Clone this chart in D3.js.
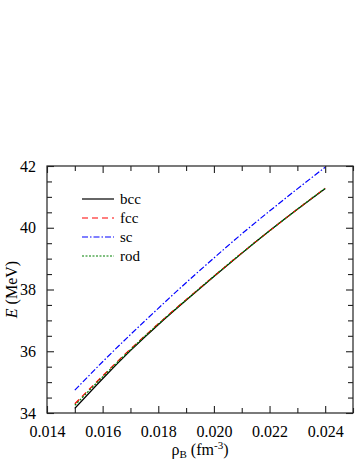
<!DOCTYPE html>
<html>
<head>
<meta charset="utf-8">
<script src="https://cdn.jsdelivr.net/npm/d3@7"></script>
<style>
  body { margin: 0; background: #fff; }
  svg { font-family: "Liberation Serif", "Times New Roman", serif; }
</style>
</head>
<body>
<svg id="chart" width="357" height="462"></svg>
<script>
// densities (fm^-3)
const rho = [0.015, 0.016, 0.017, 0.018, 0.019, 0.020, 0.021, 0.022, 0.023, 0.024];
// energies (MeV)
const bcc = [34.15, 35.11, 36.02, 36.86, 37.65, 38.42, 39.17, 39.90, 40.60, 41.27];
const fcc = [34.30, 35.20, 36.07, 36.89, 37.67, 38.43, 39.18, 39.90, 40.60, 41.28];
const sc  = [34.74, 35.66, 36.54, 37.39, 38.22, 39.02, 39.80, 40.54, 41.26, 41.96];
const rod = [34.25, 35.17, 36.05, 36.88, 37.66, 38.43, 39.18, 39.90, 40.60, 41.28];

const xTicks = [0.014, 0.016, 0.018, 0.020, 0.022, 0.024];
const yTicks = [34, 36, 38, 40, 42];

const series = [
  {name: 'bcc', values: bcc, color: '#000000', dash: null},
  {name: 'fcc', values: fcc, color: '#ff0000', dash: '6,4'},
  {name: 'sc',  values: sc,  color: '#0000ff', dash: '6,2,1.5,2'},
  {name: 'rod', values: rod, color: '#008000', dash: '2,1.5'}
];

const svg = d3.select('#chart');
const margin = {left: 47, top: 166, right: 4, bottom: 49};
const width = +svg.attr('width');
const height = +svg.attr('height');
const innerW = width - margin.left - margin.right;
const innerH = height - margin.top - margin.bottom;

const x = d3.scaleLinear().domain([0.014, 0.025]).range([margin.left, margin.left + innerW]);
const y = d3.scaleLinear().domain([34, 42]).range([margin.top + innerH, margin.top]);

const g = svg.append('g');

// curves
const line = d3.line().curve(d3.curveNatural).x((d, i) => x(rho[i])).y(d => y(d));
series.forEach(s => {
  g.append('path')
    .datum(s.values)
    .attr('d', line)
    .attr('fill', 'none')
    .attr('stroke', s.color)
    .attr('stroke-width', 1.2)
    .attr('stroke-dasharray', s.dash);
});

// frame
svg.append('rect')
  .attr('x', margin.left).attr('y', margin.top)
  .attr('width', innerW).attr('height', innerH)
  .attr('fill', 'none').attr('stroke', '#222').attr('stroke-width', 1.2);

const xMinor = d3.range(0.015, 0.0251, 0.002);
const yMinor = d3.range(34.5, 42, 0.5).filter(v => Math.abs(v % 2) > 0.01);

const tickStyle = sel => sel.call(a => a.select('.domain').remove())
  .call(a => a.selectAll('.tick line').attr('stroke', '#222').attr('stroke-width', 1.1));

// bottom / top
svg.append('g').attr('transform', `translate(0,${margin.top + innerH})`)
  .call(d3.axisBottom(x).tickValues(xTicks).tickSize(-7).tickPadding(13).tickFormat(d3.format('.3f')))
  .call(tickStyle)
  .call(a => a.selectAll('text').attr('font-size', 16).attr('fill', '#000').attr('font-family', 'Liberation Serif'));
svg.append('g').attr('transform', `translate(0,${margin.top + innerH})`)
  .call(d3.axisBottom(x).tickValues(xMinor).tickSize(-5).tickFormat(''))
  .call(tickStyle);
svg.append('g').attr('transform', `translate(0,${margin.top})`)
  .call(d3.axisTop(x).tickValues(xTicks).tickSize(-7).tickFormat(''))
  .call(tickStyle);
svg.append('g').attr('transform', `translate(0,${margin.top})`)
  .call(d3.axisTop(x).tickValues(xMinor).tickSize(-5).tickFormat(''))
  .call(tickStyle);

// left / right
svg.append('g').attr('transform', `translate(${margin.left},0)`)
  .call(d3.axisLeft(y).tickValues(yTicks).tickSize(-7).tickPadding(11).tickFormat(d3.format('d')))
  .call(tickStyle)
  .call(a => a.selectAll('text').attr('font-size', 16).attr('fill', '#000').attr('font-family', 'Liberation Serif'));
svg.append('g').attr('transform', `translate(${margin.left},0)`)
  .call(d3.axisLeft(y).tickValues(yMinor).tickSize(-5).tickFormat(''))
  .call(tickStyle);
svg.append('g').attr('transform', `translate(${margin.left + innerW},0)`)
  .call(d3.axisRight(y).tickValues(yTicks).tickSize(-7).tickFormat(''))
  .call(tickStyle);
svg.append('g').attr('transform', `translate(${margin.left + innerW},0)`)
  .call(d3.axisRight(y).tickValues(yMinor).tickSize(-5).tickFormat(''))
  .call(tickStyle);

// axis titles
const xt = svg.append('text')
  .attr('x', margin.left + innerW / 2).attr('y', 455)
  .attr('text-anchor', 'middle').attr('font-size', 16);
xt.append('tspan').text('ρ');
xt.append('tspan').text('B').attr('font-size', 11).attr('dy', 3);
xt.append('tspan').text(' (fm').attr('dy', -3);
xt.append('tspan').text('-3').attr('font-size', 11).attr('dy', -6);
xt.append('tspan').text(')').attr('dy', 6);

const yt = svg.append('text')
  .attr('transform', `translate(17,${margin.top + innerH / 2}) rotate(-90)`)
  .attr('text-anchor', 'middle').attr('font-size', 16);
yt.append('tspan').text('E').attr('font-style', 'italic');
yt.append('tspan').text(' (MeV)');

// legend
const legend = svg.append('g');
series.forEach((s, i) => {
  const ly = 199 + i * 19;
  legend.append('line')
    .attr('x1', 82).attr('x2', 114).attr('y1', ly).attr('y2', ly)
    .attr('stroke', s.color).attr('stroke-width', 1.2)
    .attr('stroke-dasharray', s.dash);
  legend.append('text')
    .attr('x', 120).attr('y', ly + 5)
    .attr('font-size', 15).text(s.name);
});
</script>
</body>
</html>
